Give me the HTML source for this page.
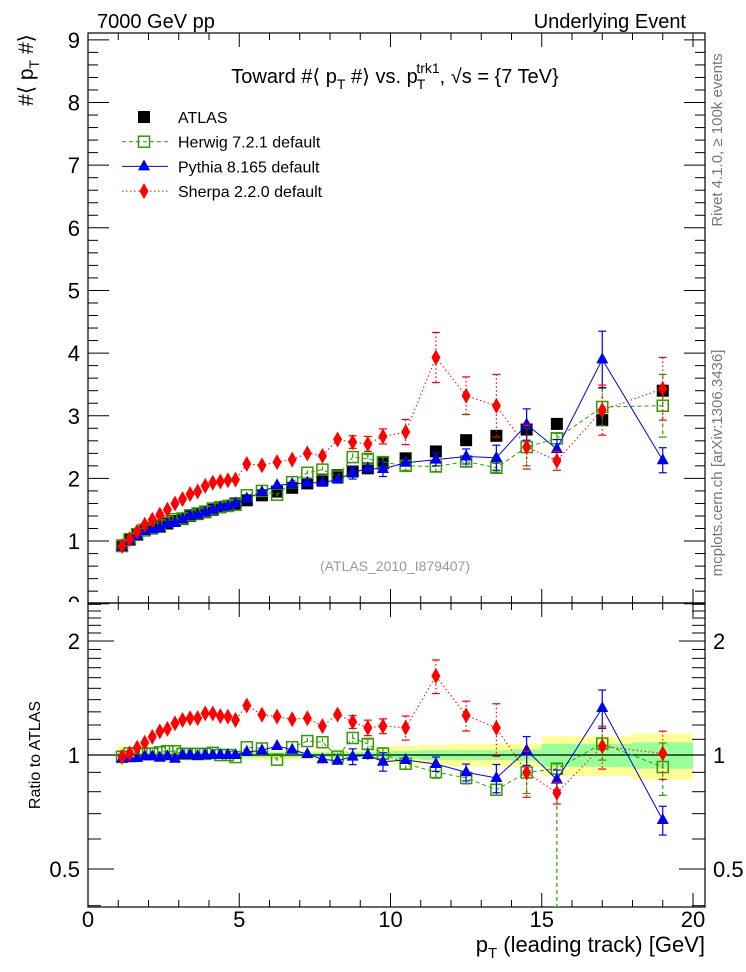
<!DOCTYPE html>
<html><head><meta charset="utf-8"><style>
html,body{margin:0;padding:0;background:#fff}
svg{display:block;font-family:"Liberation Sans",sans-serif}
</style></head><body>
<svg id="c" width="746" height="972" viewBox="0 0 746 972">
<defs>
<clipPath id="clipMain"><rect x="88" y="33" width="617" height="570"/></clipPath>
<clipPath id="clipRatio"><rect x="88" y="603" width="617" height="304"/></clipPath>
<clipPath id="clipZero"><rect x="0" y="0" width="88" height="602"/></clipPath>
</defs>
<g id="bands" clip-path="url(#clipRatio)"></g>
<g id="axes"></g>
<g id="series"></g>
<text x="97" y="28" font-size="20">7000 GeV pp</text>
<text x="686" y="28" font-size="20" text-anchor="end">Underlying Event</text>
<text x="395" y="83" font-size="20" text-anchor="middle">Toward #⟨ p<tspan font-size="14" dy="6">T</tspan><tspan dy="-6"> #⟩ vs. p</tspan><tspan font-size="14" dy="6" dx="-1">T</tspan><tspan font-size="14" dy="-16" dx="-9">trk1</tspan><tspan dy="10">, √s = {7 TeV}</tspan></text>
<text transform="translate(33,70) rotate(-90)" font-size="21" text-anchor="middle">#⟨ p<tspan font-size="14" dy="6">T</tspan><tspan dy="-6"> #⟩</tspan></text>
<text x="80" y="612" font-size="22" text-anchor="end" clip-path="url(#clipZero)">0</text>
<text transform="translate(40,755) rotate(-90)" font-size="16" text-anchor="middle">Ratio to ATLAS</text>
<text x="705" y="952" font-size="22" text-anchor="end">p<tspan font-size="15" dy="6">T</tspan><tspan dy="-6"> (leading track) [GeV]</tspan></text>
<text transform="translate(722,140) rotate(-90)" font-size="15" fill="#777" text-anchor="middle">Rivet 4.1.0, ≥ 100k events</text>
<text transform="translate(722,463) rotate(-90)" font-size="15" fill="#777" text-anchor="middle">mcplots.cern.ch [arXiv:1306.3436]</text>
<text x="395" y="571" font-size="14" fill="#999" text-anchor="middle">(ATLAS_2010_I879407)</text>
<g id="legend"></g>
</svg>
<script>
const edges=[1,1.25,1.5,1.75,2,2.25,2.5,2.75,3,3.25,3.5,3.75,4,4.25,4.5,4.75,5,5.5,6,6.5,7,7.5,8,8.5,9,9.5,10,11,12,13,14,15,16,18,20];
const atlas=[0.93,1.02,1.10,1.17,1.20,1.23,1.28,1.32,1.35,1.40,1.43,1.46,1.50,1.54,1.56,1.60,1.65,1.73,1.79,1.85,1.92,1.98,2.05,2.11,2.16,2.24,2.32,2.43,2.61,2.68,2.78,2.87,2.93,3.40];
const herwig=[0.92,1.03,1.11,1.18,1.21,1.25,1.31,1.35,1.36,1.41,1.44,1.47,1.52,1.54,1.56,1.58,1.73,1.80,1.74,1.94,2.09,2.14,2.03,2.34,2.31,2.26,2.20,2.19,2.27,2.17,2.50,2.64,3.14,3.16];
const pythia=[0.91,1.00,1.08,1.16,1.19,1.21,1.27,1.29,1.35,1.40,1.42,1.46,1.50,1.54,1.56,1.60,1.68,1.78,1.89,1.91,1.93,1.93,1.98,2.09,2.16,2.15,2.25,2.30,2.35,2.33,2.86,2.47,3.90,2.29];
const sherpa=[0.92,1.03,1.15,1.26,1.34,1.42,1.50,1.60,1.67,1.75,1.79,1.88,1.93,1.95,1.97,1.98,2.23,2.21,2.26,2.30,2.40,2.36,2.62,2.58,2.55,2.67,2.74,3.93,3.32,3.16,2.50,2.28,3.09,3.43];
const herErr=[0.01,0.01,0.01,0.01,0.01,0.01,0.01,0.01,0.01,0.01,0.01,0.01,0.01,0.01,0.01,0.01,0.02,0.02,0.03,0.03,0.04,0.05,0.05,0.06,0.07,0.08,0.07,0.08,0.08,0.07,0.3,0.08,0.3,0.5];
const herErrLo=[0.01,0.01,0.01,0.01,0.01,0.01,0.01,0.01,0.01,0.01,0.01,0.01,0.01,0.01,0.01,0.01,0.02,0.02,0.03,0.03,0.04,0.05,0.05,0.06,0.07,0.08,0.07,0.08,0.08,0.07,0.3,1.5,0.3,0.5];
const pyErr=[0.01,0.01,0.01,0.01,0.01,0.01,0.01,0.01,0.01,0.01,0.01,0.01,0.01,0.01,0.01,0.01,0.02,0.02,0.03,0.03,0.04,0.05,0.05,0.1,0.06,0.12,0.05,0.1,0.12,0.2,0.25,0.15,0.45,0.2];
const shErr=[0.01,0.01,0.01,0.01,0.01,0.01,0.01,0.01,0.01,0.01,0.01,0.01,0.01,0.01,0.01,0.01,0.02,0.02,0.03,0.04,0.06,0.05,0.06,0.1,0.12,0.12,0.2,0.4,0.3,0.5,0.35,0.15,0.4,0.5];
const totBand=[0.06,0.02,0.02,0.02,0.02,0.02,0.02,0.02,0.02,0.02,0.02,0.02,0.02,0.02,0.02,0.02,0.03,0.03,0.03,0.03,0.03,0.03,0.03,0.03,0.03,0.04,0.06,0.06,0.07,0.07,0.07,0.12,0.12,0.14];
const statBand=[0.03,0.01,0.01,0.01,0.01,0.01,0.01,0.01,0.01,0.01,0.01,0.01,0.01,0.01,0.01,0.01,0.015,0.015,0.015,0.015,0.015,0.015,0.015,0.02,0.02,0.02,0.025,0.03,0.03,0.03,0.035,0.07,0.07,0.08];
const xTicks=[0,5,10,15,20];
const yTicks=[1,2,3,4,5,6,7,8,9];
const rTicks=[0.5,1,2];

const NS='http://www.w3.org/2000/svg';
const X0=88,X1=705,YT=33,YM=603,YB=907;
const xs=v=>88+30.25*v;
const ym=v=>603.7-62.65*v;
const yr=r=>755-114*Math.log2(r);
function mk(tag,attrs,parent){const e=document.createElementNS(NS,tag);for(const k in attrs)e.setAttribute(k,attrs[k]);parent.appendChild(e);return e;}
const axes=document.getElementById('axes'),series=document.getElementById('series'),bands=document.getElementById('bands');
const centers=atlas.map((_,i)=>(edges[i]+edges[i+1])/2);

for(let i=0;i<atlas.length;i++){
  const x=xs(edges[i]),w=xs(edges[i+1])-x;
  const b1=mk('rect',{x:x,y:yr(1+totBand[i]),width:w,height:yr(1-totBand[i])-yr(1+totBand[i]),fill:'#ffff99'},bands);
  
  
  const b2=mk('rect',{x:x,y:yr(1+statBand[i]),width:w,height:yr(1-statBand[i])-yr(1+statBand[i]),fill:'#99ff99'},bands);
  
  
}
mk('line',{x1:X0,x2:X1,y1:yr(1),y2:yr(1),stroke:'#000','stroke-width':1.2},bands);

const f1=mk('rect',{x:X0,y:YT,width:X1-X0,height:YM-YT,fill:'none',stroke:'#000','stroke-width':1.2},axes);


const f2=mk('rect',{x:X0,y:YM,width:X1-X0,height:YB-YM,fill:'none',stroke:'#000','stroke-width':1.2},axes);



for(let v=0;v<=20;v++){
  const x=xs(v),maj=v%5===0,L=maj?14:7;
  [[YT,YT+L],[YM,YM-L],[YM,YM+L],[YB,YB-L]].forEach(p=>mk('line',{x1:x,x2:x,y1:p[0],y2:p[1],stroke:'#000'},axes));
}
xTicks.forEach(v=>{const t=mk('text',{x:xs(v),y:927,'font-size':22,'text-anchor':'middle'},axes);t.textContent=v;

});
for(let k=0;k<=45;k++){const v=k*0.2;const y=ym(v);if(y<YT)continue;const maj=k%5===0,L=maj?21:10;
  mk('line',{x1:X0,x2:X0+L,y1:y,y2:y,stroke:'#000'},axes);mk('line',{x1:X1,x2:X1-L,y1:y,y2:y,stroke:'#000'},axes);}
yTicks.forEach(v=>{const t=mk('text',{x:80,y:ym(v)+8,'font-size':22,'text-anchor':'end'},axes);t.textContent=v;

});
const rMinor=[0.4,0.6,0.7,0.8,0.9,1.1,1.2,1.3,1.4,1.5,1.6,1.7,1.8,1.9,2.1,2.2,2.3,2.4,2.5];
rMinor.forEach(r=>{const y=yr(r);if(y<YM||y>YB)return;mk('line',{x1:X0,x2:X0+13,y1:y,y2:y,stroke:'#000'},axes);mk('line',{x1:X1,x2:X1-13,y1:y,y2:y,stroke:'#000'},axes);});
rTicks.forEach(r=>{const y=yr(r);mk('line',{x1:X0,x2:X0+26,y1:y,y2:y,stroke:'#000'},axes);mk('line',{x1:X1,x2:X1-26,y1:y,y2:y,stroke:'#000'},axes);
  const t=mk('text',{x:80,y:y+8,'font-size':22,'text-anchor':'end'},axes);t.textContent=r;
  
  
  const t2=mk('text',{x:713,y:y+8,'font-size':22},axes);t2.textContent=r;
  
  });

function marker(type,x,y,g){
  if(type==='sq')return mk('rect',{x:x-6,y:y-6,width:12,height:12,fill:'#000'},g);
  if(type==='osq')return mk('rect',{x:x-5.5,y:y-5.5,width:11,height:11,fill:'none',stroke:'#339900','stroke-width':1.5},g);
  if(type==='tri')return mk('polygon',{points:`${x},${y-7} ${x-6},${y+4} ${x+6},${y+4}`,fill:'#0000ee'},g);
  return mk('polygon',{points:`${x},${y-8} ${x-4.5},${y} ${x},${y+8} ${x+4.5},${y}`,fill:'#ff0000'},g);
}
const models=[
 {name:'herwig',vals:herwig,err:herErr,errLo:herErrLo,col:'#339900',dash:'4,3',m:'osq'},
 {name:'pythia',vals:pythia,err:pyErr,errLo:pyErr,col:'#0000ee',dash:'',m:'tri'},
 {name:'sherpa',vals:sherpa,err:shErr,errLo:shErr,col:'#ff0000',dash:'1.5,2.5',m:'dia'}];
function drawPanel(clip,yf,isRatio){
  const g=mk('g',{'clip-path':`url(#${clip})`},series);
  if(!isRatio){
    const ga=mk('g',{},g);
    
    
    atlas.forEach((v,i)=>{const m=marker('sq',xs(centers[i]),yf(v),ga);
      
      });
  }
  models.forEach(md=>{
    const gs=mk('g',{},g);
    
    
    const vv=md.vals.map((v,i)=>isRatio?v/atlas[i]:v);
    const eu=md.err.map((e,i)=>isRatio?e/atlas[i]:e);
    const el=md.errLo.map((e,i)=>isRatio?e/atlas[i]:e);
    const pts=vv.map((v,i)=>`${xs(centers[i])},${yf(v)}`).join(' ');
    mk('polyline',{points:pts,fill:'none',stroke:md.col,'stroke-width':1,'stroke-dasharray':md.dash},gs);
    vv.forEach((v,i)=>{const x=xs(centers[i]);const hi=v+eu[i];const lo=Math.max(v-el[i],0.05);
      const mainOnly=!isRatio&&el[i]>0.5*v;const loD=mainOnly?v:lo;
      mk('line',{x1:x,x2:x,y1:yf(hi),y2:yf(loD),stroke:md.col,'stroke-width':1.2,'stroke-dasharray':md.dash},gs);
      if(eu[i]>0.03*v){mk('line',{x1:x-4,x2:x+4,y1:yf(hi),y2:yf(hi),stroke:md.col,'stroke-width':1.2},gs);
        if(!mainOnly)mk('line',{x1:x-4,x2:x+4,y1:yf(lo),y2:yf(lo),stroke:md.col,'stroke-width':1.2},gs);}
      const m=marker(md.m,x,yf(v),gs);
      
      });
  });
}
drawPanel('clipMain',ym,false);
drawPanel('clipRatio',yr,true);

const lg=document.getElementById('legend');
const entries=[['sq','ATLAS','',''],['osq','Herwig 7.2.1 default','#339900','4,3'],['tri','Pythia 8.165 default','#0000ee',''],['dia','Sherpa 2.2.0 default','#ff0000','1.5,2.5']];
entries.forEach((e,i)=>{const y=117+i*24.7;const g=mk('g',{},lg);
  
  
  if(e[2])mk('line',{x1:122,x2:168,y1:y,y2:y,stroke:e[2],'stroke-dasharray':e[3]},g);
  marker(e[0],144,y,g);
  const t=mk('text',{x:178,y:y+6,'font-size':16},g);t.textContent=e[1];});
</script>
</body></html>
